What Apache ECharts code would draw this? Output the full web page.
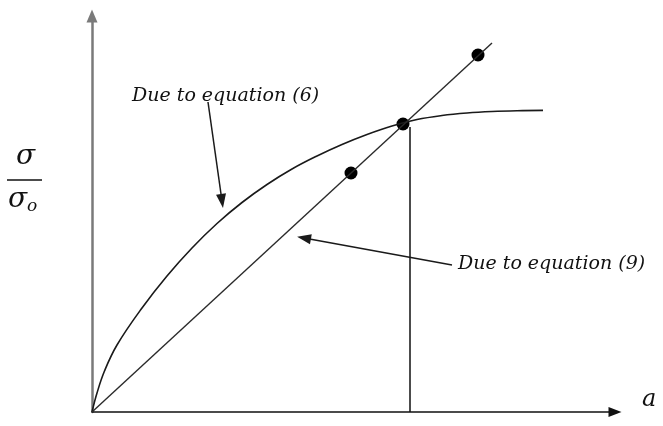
<!DOCTYPE html>
<html>
<head>
<meta charset="utf-8">
<script src="https://cdn.jsdelivr.net/npm/echarts@6/dist/echarts.min.js"></script>
<style>
  html, body { margin: 0; padding: 0; background: #fff; }
  #chart { width: 663px; height: 426px; }
</style>
</head>
<body>
<div id="chart"></div>
<script>
// Stress ratio vs. crack length a: eq. (6) curve, eq. (9) straight line
var xRange = [0, 5.23];
var yRange = [0, 3.96];

// Curve due to equation (6)
var curveEq6 = [
  [0, 0], [0.05, 0.19], [0.125, 0.41], [0.25, 0.67], [0.5, 1.04],
  [0.75, 1.36], [1.0, 1.64], [1.25, 1.885], [1.5, 2.095], [1.75, 2.275],
  [2.0, 2.43], [2.25, 2.56], [2.5, 2.675], [2.75, 2.775], [3.0, 2.86],
  [3.25, 2.925], [3.5, 2.965], [3.75, 2.99], [4.0, 3.005], [4.25, 3.013],
  [4.51, 3.016]
];

// Straight line due to equation (9)
var lineEq9 = [[0, 0], [4.00, 3.69]];

// Marked points on the straight line
var markedPoints = [[2.59, 2.39], [3.11, 2.88], [3.86, 3.57]];

// Vertical drop from the intersection to the a-axis
var dropLine = [[3.18, 0], [3.18, 2.85]];

// Annotation arrows: [start, arrowhead centre]
var arrowEq6 = [[1.16, 3.10], [1.30, 2.11]];
var arrowEq9 = [[3.60, 1.47], [2.12, 1.74]];

var labelEq6 = 'Due to equation (6)';
var labelEq9 = 'Due to equation (9)';
var xName = 'a';

var ink = '#111111';
var serifItalic = '"DejaVu Serif", "Liberation Serif", serif';

var chart = echarts.init(document.getElementById('chart'), null, { renderer: 'canvas' });

chart.setOption({
  animation: false,
  backgroundColor: '#ffffff',
  grid: { left: 92, right: 48, top: 16, bottom: 14, containLabel: false },
  xAxis: {
    type: 'value', min: xRange[0], max: xRange[1],
    axisLine: { show: true, symbol: ['none', 'triangle'], symbolSize: [10, 13],
      lineStyle: { color: '#111', width: 1.5 } },
    axisTick: { show: false }, axisLabel: { show: false }, splitLine: { show: false }
  },
  yAxis: {
    type: 'value', min: yRange[0], max: yRange[1],
    axisLine: { show: true, symbol: ['none', 'triangle'], symbolSize: [11, 13],
      lineStyle: { color: '#7a7a7a', width: 2.5 } },
    axisTick: { show: false }, axisLabel: { show: false }, splitLine: { show: false }
  },
  series: [
    {
      name: 'eq6', type: 'line', data: curveEq6, smooth: 0.4,
      showSymbol: false, symbol: 'none',
      lineStyle: { color: '#1a1a1a', width: 1.6 }
    },
    {
      name: 'eq9', type: 'line', data: lineEq9,
      showSymbol: false, symbol: 'none',
      lineStyle: { color: '#2a2a2a', width: 1.4 },
      markLine: {
        silent: true, symbol: ['none', 'triangle'], symbolSize: [10, 14],
        label: { show: false },
        lineStyle: { color: '#1a1a1a', width: 1.5, type: 'solid' },
        data: [
          [{ coord: arrowEq6[0] }, { coord: arrowEq6[1] }],
          [{ coord: arrowEq9[0] }, { coord: arrowEq9[1] }]
        ]
      }
    },
    {
      name: 'drop', type: 'line', data: dropLine,
      showSymbol: false, symbol: 'none',
      lineStyle: { color: '#111', width: 1.5 }
    },
    {
      name: 'points', type: 'scatter', data: markedPoints,
      symbolSize: 13, itemStyle: { color: '#000', opacity: 1 }
    }
  ],
  graphic: [
    {
      type: 'text', left: 132, top: 87,
      style: { text: labelEq6, fill: ink, font: 'italic 19px ' + serifItalic }
    },
    {
      type: 'text', left: 458, top: 255,
      style: { text: labelEq9, fill: ink, font: 'italic 19px ' + serifItalic }
    },
    {
      type: 'text', left: 642, top: 388,
      style: { text: xName, fill: ink, font: 'italic 24px ' + serifItalic }
    },
    {
      type: 'text', left: 16, top: 143,
      style: { text: 'σ', fill: ink, font: 'italic 28px ' + serifItalic }
    },
    {
      type: 'line', shape: { x1: 7, y1: 180, x2: 42, y2: 180 },
      style: { stroke: ink, lineWidth: 1.5 }
    },
    {
      type: 'text', left: 8, top: 186,
      style: {
        text: '{s|σ}{o|o}',
        rich: {
          s: { fill: ink, font: 'italic 28px ' + serifItalic },
          o: { fill: ink, font: 'italic 17px ' + serifItalic, padding: [14, 0, 0, 0] }
        }
      }
    }
  ]
});
</script>
</body>
</html>
